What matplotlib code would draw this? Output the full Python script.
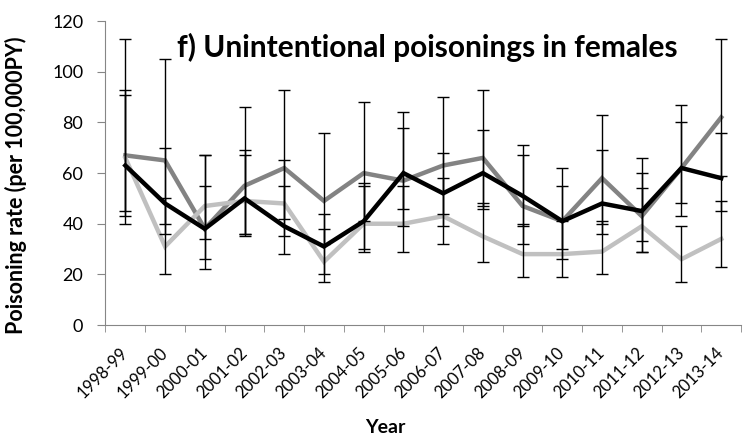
import matplotlib.pyplot as plt
import numpy as np

# categories
years = ["1998-99", "1999-00", "2000-01", "2001-02", "2002-03", "2003-04",
         "2004-05", "2005-06", "2006-07", "2007-08", "2008-09", "2009-10",
         "2010-11", "2011-12", "2012-13", "2013-14"]

# dark grey series
dark = [67, 65, 38, 55, 62, 49, 60, 57, 63, 66, 47, 41, 58, 43, 62, 82]
dark_lo = [40, 40, 22, 36, 42, 32, 41, 39, 44, 47, 32, 26, 40, 29, 43, 59]
dark_hi = [113, 105, 67, 86, 93, 76, 88, 84, 90, 93, 71, 62, 83, 66, 87, 113]

# light grey series
light = [66, 31, 47, 49, 48, 25, 40, 40, 43, 35, 28, 28, 29, 39, 26, 34]
light_lo = [45, 20, 34, 35, 35, 17, 29, 29, 32, 25, 19, 19, 20, 29, 17, 23]
light_hi = [91, 50, 67, 69, 65, 38, 55, 55, 58, 48, 40, 41, 41, 54, 39, 49]

# black series
black = [63, 48, 38, 50, 39, 31, 41, 60, 52, 60, 51, 41, 48, 45, 62, 58]
black_lo = [43, 36, 26, 36, 28, 20, 30, 46, 39, 46, 39, 30, 36, 33, 48, 45]
black_hi = [93, 70, 55, 67, 55, 44, 56, 78, 68, 77, 67, 55, 69, 60, 80, 76]

plt.rcParams['font.family'] = ['Lato', 'DejaVu Sans']

fig = plt.figure(figsize=(7.46, 4.41), dpi=100)
ax = fig.add_axes([0.1414, 0.263, 0.852, 0.689])

x = np.arange(len(years))

series = [(dark, dark_lo, dark_hi, '#838383'),
          (light, light_lo, light_hi, '#c0c0c0'),
          (black, black_lo, black_hi, '#000000')]

for vals, lo, hi, col in series:
    ax.plot(x, vals, color=col, lw=3.2, zorder=2, solid_joinstyle='miter')

for vals, lo, hi, col in series:
    vals = np.array(vals)
    err = [vals - np.array(lo), np.array(hi) - vals]
    ax.errorbar(x, vals, yerr=err, fmt='none', ecolor='black', elinewidth=1,
                capsize=4, capthick=1, zorder=3)

ax.set_xlim(-0.5, len(years) - 0.5)
ax.set_ylim(0, 120)
ax.set_yticks(range(0, 121, 20))
ax.set_xticks(x)
ax.set_xticklabels(years, rotation=45, ha='right', va='center',
                   rotation_mode='anchor', fontsize=12)
ax.set_xticks(np.arange(-0.5, len(years), 1), minor=True)
ax.tick_params(axis='x', which='major', length=0, pad=18)
ax.tick_params(axis='x', which='minor', length=5, color='#868686', direction='out')
ax.tick_params(axis='y', length=6, color='#868686', labelsize=13, pad=10)

for s in ['top', 'right']:
    ax.spines[s].set_visible(False)
for s in ['left', 'bottom']:
    ax.spines[s].set_color('#868686')

ax.set_ylabel("Poisoning rate (per 100,000PY)", fontsize=15.5, fontweight='bold')
ax.yaxis.set_label_coords(-0.1235, 0.46)
ax.set_xlabel("Year", fontsize=14, fontweight='bold')
ax.xaxis.set_label_coords(0.441, -0.31)

ax.text(0.507, 0.914, "f) Unintentional poisonings in females", transform=ax.transAxes,
        ha='center', va='center', fontsize=21.5, fontweight='bold')

fig.savefig("out.png", dpi=100)
